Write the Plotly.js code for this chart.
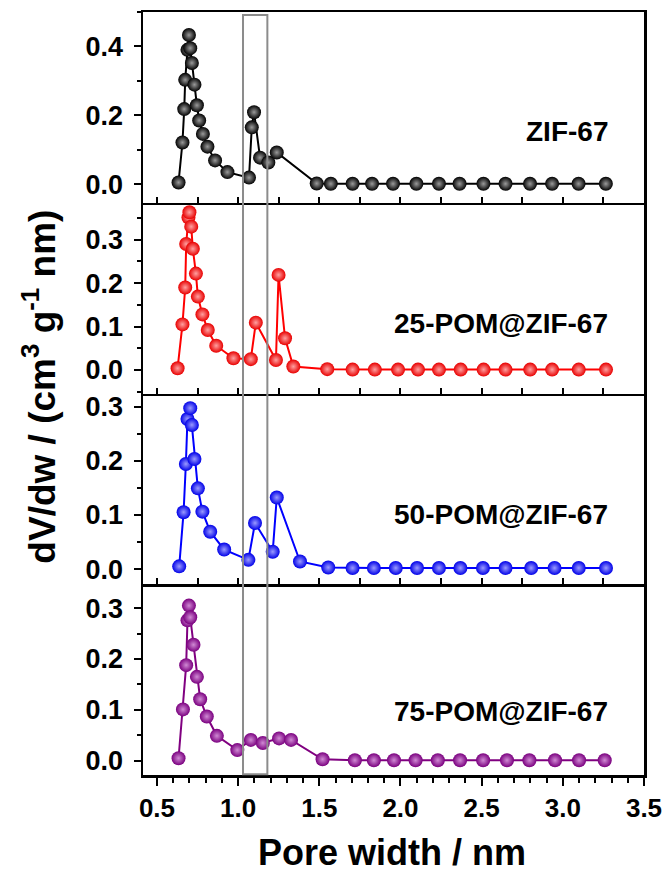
<!DOCTYPE html>
<html>
<head>
<meta charset="utf-8">
<script src="https://cdn.plot.ly/plotly-3.0.1.min.js"></script>
<style>html,body{margin:0;padding:0;background:#fff;}#chart{width:668px;height:872px;}</style>
</head>
<body>
<div id="chart"></div>
<script>
// ---- data ----
const zifX = [0.633,0.657,0.668,0.674,0.688,0.697,0.705,0.715,0.731,0.746,0.760,0.783,0.811,0.858,0.934,1.067,1.084,1.098,1.135,1.186,1.238,1.484,1.571,1.705,1.825,1.954,2.098,2.237,2.364,2.511,2.647,2.798,2.934,3.097,3.265];
const zifY = [0.005,0.121,0.218,0.303,0.390,0.433,0.395,0.352,0.289,0.229,0.185,0.146,0.109,0.069,0.035,0.019,0.165,0.209,0.077,0.063,0.092,0.002,0.001,0.001,0.001,0.001,0.001,0.001,0.001,0.001,0.001,0.001,0.001,0.001,0.001];

const p25X = [0.627,0.657,0.674,0.680,0.694,0.700,0.711,0.721,0.740,0.752,0.780,0.813,0.865,0.971,1.078,1.109,1.233,1.249,1.289,1.340,1.549,1.705,1.842,1.985,2.108,2.237,2.371,2.512,2.647,2.799,2.934,3.098,3.266];
const p25Y = [0.004,0.105,0.190,0.290,0.351,0.363,0.330,0.279,0.222,0.169,0.128,0.092,0.056,0.027,0.025,0.109,0.023,0.219,0.073,0.008,0.002,0.001,0.001,0.001,0.001,0.001,0.001,0.001,0.001,0.001,0.001,0.001,0.001];

const p50X = [0.637,0.664,0.678,0.688,0.705,0.715,0.731,0.752,0.780,0.828,0.914,1.063,1.104,1.213,1.238,1.381,1.555,1.705,1.836,1.971,2.102,2.237,2.369,2.508,2.647,2.805,2.949,3.098,3.266];
const p50Y = [0.005,0.105,0.194,0.277,0.297,0.266,0.203,0.149,0.106,0.069,0.036,0.017,0.085,0.032,0.132,0.014,0.003,0.002,0.002,0.002,0.002,0.002,0.002,0.002,0.002,0.002,0.002,0.002,0.002];

const p75X = [0.633,0.660,0.680,0.688,0.697,0.705,0.725,0.746,0.766,0.807,0.869,0.995,1.078,1.152,1.252,1.326,1.520,1.719,1.836,1.960,2.093,2.230,2.367,2.509,2.656,2.794,2.952,3.100,3.258];
const p75Y = [0.005,0.101,0.188,0.276,0.305,0.282,0.228,0.165,0.121,0.087,0.049,0.021,0.041,0.035,0.044,0.041,0.003,0.001,0.001,0.001,0.001,0.001,0.001,0.001,0.001,0.001,0.001,0.001,0.001];

const sampleNames = ["ZIF-67","25-POM@ZIF-67","50-POM@ZIF-67","75-POM@ZIF-67"];
const xTitle = "Pore width / nm";
const yTitle = "dV/dw / (cm<sup>3</sup> g<sup>-1</sup> nm)";
const boxX = [1.03, 1.18];

// ---- styling ----
const FONT = "Liberation Sans, Arial, sans-serif";
const edge = ["#000000","#e80000","#0000e8","#7a007f"];
const core = ["#9a9a9a","#ffa0a0","#9a9aff","#d08ad4"];
const lineC = ["#000000","#ff0000","#0000ff","#800080"];

const xs = [zifX,p25X,p50X,p75X];
const ys = [zifY,p25Y,p50Y,p75Y];
const axSuffix = ["","2","3","4"];

const traces = xs.map((x,i)=>({
  type:"scatter", mode:"lines+markers", name: sampleNames[i],
  x: x, y: ys[i],
  xaxis: "x"+axSuffix[i], yaxis: "y"+axSuffix[i],
  line:{color:lineC[i], width:2},
  marker:{size:14, color:edge[i], gradient:{type:"radial", color:core[i]}, line:{width:0}},
  showlegend:false, cliponaxis:false
}));

const xr = [0.414, 3.5];
function xAxis(i){
  const last = (i===3);
  const a = {
    domain:[0,1], range: xr, anchor: "y"+axSuffix[i],
    showline:true, mirror:(i===0), linecolor:"#000", linewidth:2.5,
    showgrid:false, zeroline:false,
    tick0:0.5, dtick: last?0.5:0.25,
    ticks: last?"outside":"inside", ticklen: last?8:6, tickwidth:2, tickcolor:"#000",
    showticklabels: last, tickformat:".1f",
    tickfont:{family:FONT, size:26, color:"#000", weight:"bold"}
  };
  if (last){
    a.minor = {tick0:0.5, dtick:0.1, ticks:"outside", ticklen:5, tickwidth:2, tickcolor:"#000", showgrid:false};
  }
  if (i>0) a.matches = "x";
  return a;
}
const yDomains = [[0.75,1],[0.5,0.75],[0.25,0.5],[0,0.25]];
const yRanges = [[-0.054,0.5],[-0.054,0.385],[-0.028,0.324],[-0.028,0.347]];
const yD = [0.2,0.1,0.1,0.1];
function yAxis(i){
  return {
    domain: yDomains[i], range: yRanges[i], anchor: "x"+axSuffix[i],
    showline:true, mirror:true, linecolor:"#000", linewidth:2.5,
    showgrid:false, zeroline:false,
    tick0:0, dtick:yD[i], ticks:"outside", ticklen:7, tickwidth:2, tickcolor:"#000",
    tickformat:".1f", ticklabelstandoff:5,
    tickfont:{family:FONT, size:27, color:"#000", weight:"bold"},
    minor:{tick0:0, dtick:yD[i]/2, ticks:"outside", ticklen:4, tickwidth:2, tickcolor:"#000", showgrid:false}
  };
}

const layout = {
  width:668, height:872,
  margin:{l:143, r:24, t:12, b:97},
  paper_bgcolor:"#ffffff", plot_bgcolor:"#ffffff",
  showlegend:false,
  shapes:[{type:"rect", xref:"x", yref:"paper", x0:boxX[0], x1:boxX[1], y0:0.001, y1:0.996,
           line:{color:"#8c8c8c", width:2}, fillcolor:"rgba(0,0,0,0)", layer:"above"}],
  annotations:[]
};
for (let i=0;i<4;i++){
  layout["xaxis"+axSuffix[i]] = xAxis(i);
  layout["yaxis"+axSuffix[i]] = yAxis(i);
}
const labelY = [0.843,0.592,0.341,0.083];
sampleNames.forEach((n,i)=>{
  layout.annotations.push({text:n, xref:"paper", yref:"paper", x:0.932, y:labelY[i],
    xanchor:"right", yanchor:"middle", showarrow:false,
    font:{family:FONT, size:28, color:"#000", weight:"bold"}});
});
layout.annotations.push({text:xTitle, xref:"paper", yref:"paper", x:0.498, y:-0.101,
  xanchor:"center", yanchor:"middle", showarrow:false,
  font:{family:FONT, size:36, color:"#000", weight:"bold"}});
layout.annotations.push({text:yTitle, xref:"paper", yref:"paper", x:-0.2056, y:0.509,
  xanchor:"center", yanchor:"middle", textangle:-90, showarrow:false,
  font:{family:FONT, size:37, color:"#000", weight:"bold"}});

Plotly.newPlot("chart", traces, layout, {staticPlot:true, displayModeBar:false});
</script>
</body>
</html>
